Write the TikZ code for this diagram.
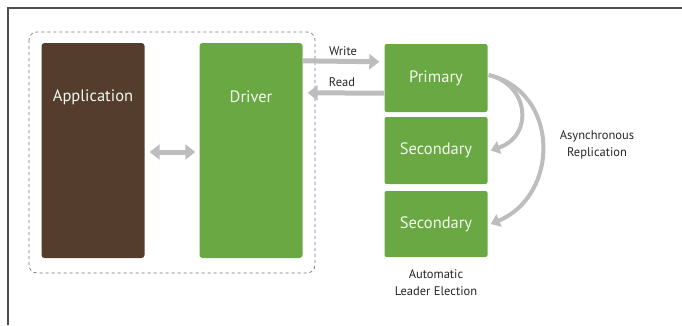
\documentclass[tikz,border=0pt]{standalone}
\usepackage{fontspec}
\setmainfont{PT Sans}
\usetikzlibrary{arrows.meta}
\definecolor{appbrown}{HTML}{553D2E}
\definecolor{nodegreen}{HTML}{6AA843}
\definecolor{flowgray}{HTML}{BDBDBD}
\begin{document}
\begin{tikzpicture}[x=1pt,y=-1pt,
  box/.style={rounded corners=3pt, inner sep=0pt, minimum width=103pt},
  boxtext/.style={text=white!92!nodegreen, font=\fontsize{16.5}{19}\selectfont},
  flow/.style={draw=flowgray, line width=5pt, -{Triangle[width=15pt,length=10pt]}},
  replarrow/.style={draw=flowgray, line width=4pt, -{Triangle[width=13pt,length=9pt]}},
  lbl/.style={font=\fontsize{12.5}{17}\selectfont, align=center, text=black!85}]
\useasboundingbox (0,0) rectangle (682,325);
\draw[black!70, line width=1.2pt] (8,325) -- (8,8) -- (682,8);
\draw[dashed, black!55, line width=0.7pt, rounded corners=8pt] (29,32) rectangle (315,273);

% client side
\node (app) [box, fill=appbrown, minimum height=215pt] at (93,150.5) {};
\node (drv) [box, fill=nodegreen, minimum height=215pt] at (251,150.5) {};
\node (apptext) [boxtext] at (93,97) {Application};
\node (drvtext) [boxtext] at (251,97) {Driver};
\draw[flow, {Triangle[width=15pt,length=10pt]}-{Triangle[width=15pt,length=10pt]}]
  ([xshift=5pt,yshift=-1.5pt]app.east) -- ([xshift=-4pt,yshift=-1.5pt]drv.west);

% replica set
\node (pri) [box, fill=nodegreen, minimum height=68pt, rounded corners=2pt] at (436,78) {};
\node (sec1) [box, fill=nodegreen, minimum height=67pt, rounded corners=2pt] at (436,150.5) {};
\node (sec2) [box, fill=nodegreen, minimum height=66pt, rounded corners=2pt] at (436,224) {};
\node (pritext) [boxtext] at (436,78) {Primary};
\node (sec1text) [boxtext] at (436,150.5) {Secondary};
\node (sec2text) [boxtext] at (436,224) {Secondary};

\draw[flow] ([yshift=-18pt]drv.north east) -- ([xshift=-5pt,yshift=-18pt]pri.north west);
\draw[flow] ([yshift=19pt]pri.south west) -- ([xshift=5pt,yshift=-50pt]drv.north east);
\node (write) [lbl] at (343,51) {Write};
\node (read) [lbl] at (342,82) {Read};

\draw[replarrow] ([xshift=1pt,yshift=3pt]pri.east) .. controls (528,84) and (535,135) .. ([xshift=3pt]sec1.east);
\draw[replarrow] ([xshift=1pt,yshift=3pt]pri.east) .. controls (560,92) and (560,195) .. ([xshift=3pt]sec2.east);
\node (async) [lbl] at (597,145) {Asynchronous\\Replication};
\node (elect) [lbl] at (436,283) {Automatic\\Leader Election};
\end{tikzpicture}
\end{document}
